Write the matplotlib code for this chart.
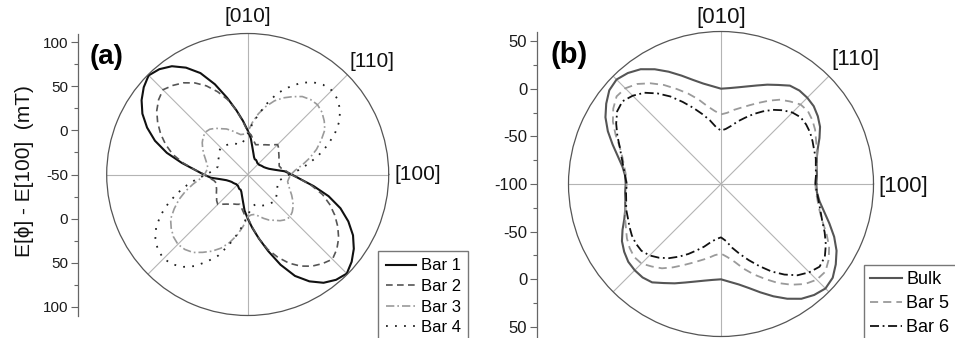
import numpy as np
import matplotlib
matplotlib.use('Agg')
import matplotlib.pyplot as plt

plt.rcParams['font.family'] = ['Liberation Sans', 'DejaVu Sans']

# ---------------- data ----------------
angles_deg = list(range(0, 360, 5))

# panel (a)
bar1 = [0, -8, -19, -25, -28, -30, -31, -32, -33, -33, -33, -32, -31, -31, -29, -25, -19, -9,
        0, 11, 24, 40, 59, 77, 90, 100, 106, 109, 104, 97, 88, 76, 62, 45, 26, 10,
        0, -8, -19, -25, -28, -30, -31, -32, -33, -33, -33, -32, -31, -31, -29, -25, -19, -9,
        0, 11, 24, 40, 59, 77, 90, 100, 106, 109, 104, 97, 88, 76, 62, 45, 26, 10]
bar2 = [-1, -6, -11, -13, -12, -11, -9, -7, -4, -2, -6, -9, -11, -13, -14, -15, -11, -5,
        -1, 10, 24, 38, 50, 61, 70, 77, 82, 86, 82, 76, 68, 59, 49, 38, 24, 10,
        -1, -6, -11, -13, -12, -11, -9, -7, -4, -2, -6, -9, -11, -13, -14, -15, -11, -5,
        -1, 10, 24, 38, 50, 61, 70, 77, 82, 86, 82, 76, 68, 59, 49, 38, 24, 10]
bar3 = [-1, 4, 13, 23, 33, 42, 51, 56, 60, 62, 61, 58, 52, 46, 39, 30, 20, 9,
        -2, -4, -4, -1, 3, 7, 10, 14, 17, 18, 16, 13, 9, 5, 1, -2, -4, -3,
        -1, 4, 13, 23, 33, 42, 51, 56, 60, 62, 61, 58, 52, 46, 39, 30, 20, 9,
        -2, -4, -4, -1, 3, 7, 10, 14, 17, 18, 16, 13, 9, 5, 1, -2, -4, -3]
bar4 = [-3, 8, 20, 33, 46, 59, 70, 78, 83, 85, 83, 78, 70, 59, 48, 33, 19, 7,
        -4, -10, -14, -15, -13, -11, -10, -9, -8, -7, -8, -10, -12, -13, -14, -15, -13, -9,
        -3, 8, 20, 33, 46, 59, 70, 78, 83, 85, 83, 78, 70, 59, 48, 33, 19, 7,
        -4, -10, -14, -15, -13, -11, -10, -9, -8, -7, -8, -10, -12, -13, -14, -15, -13, -9]

# panel (b)
bulk = [0, 1, 2, 4, 8, 14, 20, 24, 27, 28, 28, 26, 20, 15, 10, 6, 3, 1,
        0, 3, 7, 13, 21, 30, 39, 47, 52, 55, 53, 47, 40, 31, 21, 12, 5, 1,
        0, 1, 2, 4, 8, 14, 20, 24, 27, 28, 28, 26, 20, 15, 10, 6, 3, 1,
        0, 3, 7, 13, 21, 30, 39, 47, 52, 55, 53, 47, 40, 31, 21, 12, 5, 1]
bar5 = [-1, 0, 2, 4, 7, 10, 14, 17, 19, 18, 13, 8, 1, -6, -12, -17, -21, -25,
        -27, -23, -17, -8, 1, 10, 20, 29, 37, 42, 43, 38, 31, 22, 13, 7, 3, 0,
        -1, 0, 2, 4, 7, 10, 14, 17, 19, 18, 13, 8, 1, -6, -12, -17, -21, -25,
        -27, -23, -17, -8, 1, 10, 20, 29, 37, 42, 43, 38, 31, 22, 13, 7, 3, 0]
bar6 = [-1, 0, 1, 3, 4, 6, 8, 9, 9, 6, 1, -5, -12, -19, -26, -32, -38, -42,
        -44, -40, -32, -24, -15, -5, 6, 16, 25, 31, 35, 33, 27, 20, 13, 8, 4, 1,
        -1, 0, 1, 3, 4, 6, 8, 9, 9, 6, 1, -5, -12, -19, -26, -32, -38, -42,
        -44, -40, -32, -24, -15, -5, 6, 16, 25, 31, 35, 33, 27, 20, 13, 8, 4, 1]

labels_a = ['Bar 1', 'Bar 2', 'Bar 3', 'Bar 4']
labels_b = ['Bulk', 'Bar 5', 'Bar 6']
dir_labels = ['[100]', '[110]', '[010]']
rlim_a = (-50, 110)
rlim_b = (-100, 60)
rticks_a = [100, 50, 0, -50, 0, 50, 100]
rticks_b = [50, 0, -50, -100, -50, 0, 50]
ylabel = 'E[\u03d5] - E[100]  (mT)'

# ---------------- figure ----------------
W, H = 955, 338
fig = plt.figure(figsize=(W / 100, H / 100), dpi=100)


def rect(cx, cy, r):
    return [(cx - r) / W, 1 - (cy + r) / H, 2 * r / W, 2 * r / H]


def make_polar(cx, cy, R, rlim):
    ax = fig.add_axes(rect(cx, cy, R), projection='polar')
    ax.set_ylim(*rlim)
    ax.set_yticks([])
    ax.set_xticks(np.deg2rad(np.arange(0, 360, 45)))
    ax.set_xticklabels([])
    ax.set_xticks(np.deg2rad(np.arange(22.5, 360, 45)), minor=True)
    ax.xaxis.grid(True, which='major', color='#b4b4b4', lw=0.8)
    ax.xaxis.grid(False, which='minor')
    ax.tick_params(axis='x', which='major', direction='in', length=5, width=0.8, color='#555555')
    ax.tick_params(axis='x', which='minor', direction='in', length=3, width=0.8, color='#555555')
    ax.spines['polar'].set_color('#555555')
    ax.spines['polar'].set_linewidth(0.9)
    ax.set_facecolor('none')
    return ax


def make_raxis(x_px, cy, R, rlim, tickvals, fs):
    span = rlim[1] - rlim[0]
    ax = fig.add_axes([x_px / W, 1 - (cy + R) / H, 0.0001, 2 * R / H])
    ax.set_ylim(-span, span)
    for s in ['top', 'right', 'bottom']:
        ax.spines[s].set_visible(False)
    ax.spines['left'].set_color('#666666')
    ax.spines['left'].set_linewidth(0.9)
    ax.set_xticks([])
    n = len(tickvals)
    pos = [(1 if i < n // 2 else -1) * (v - rlim[0]) for i, v in enumerate(tickvals)]
    ax.set_yticks(pos)
    ax.set_yticklabels([str(v) for v in tickvals], fontsize=fs, color='#1a1a1a')
    ax.set_yticks(np.arange(-150, 151, 25), minor=True)
    ax.tick_params(axis='y', which='major', direction='out', length=5, width=0.8, color='#666666', pad=2)
    ax.tick_params(axis='y', which='minor', direction='out', length=3, width=0.8, color='#666666')
    ax.patch.set_visible(False)
    return ax


def closed(vals):
    th = np.deg2rad(angles_deg + [360])
    return th, list(vals) + [vals[0]]


# panel (a)
axa = make_polar(247.7, 174.5, 141, rlim_a)
make_raxis(77.7, 174.5, 141, rlim_a, rticks_a, 11)
styles_a = [dict(color='#111111', lw=1.5, ls='-'),
            dict(color='#555555', lw=1.2, ls=(0, (4.0, 2.6))),
            dict(color='#9a9a9a', lw=1.2, ls=(0, (5.0, 1.8, 1.0, 1.8))),
            dict(color='#222222', lw=1.3, ls=(0, (1.0, 4.0)))]
lines_a = []
for vals, lab, st in zip([bar1, bar2, bar3, bar4], labels_a, styles_a):
    th, r = closed(vals)
    ln, = axa.plot(th, r, label=lab, **st)
    lines_a.append(ln)

# panel (b)
axb = make_polar(721, 184, 152.5, rlim_b)
make_raxis(537, 184, 152.5, rlim_b, rticks_b, 12)
styles_b = [dict(color='#555555', lw=1.5, ls='-'),
            dict(color='#9a9a9a', lw=1.3, ls=(0, (4.5, 2.8))),
            dict(color='#111111', lw=1.3, ls=(0, (5.0, 2.0, 1.0, 2.0)))]
lines_b = []
for vals, lab, st in zip([bulk, bar5, bar6], labels_b, styles_b):
    th, r = closed(vals)
    ln, = axb.plot(th, r, label=lab, **st)
    lines_b.append(ln)

# direction labels
def dirlabels(ax, rmax, fs, offs):
    for lab, ang, (dx, dy, ha, va) in zip(dir_labels, [0, 45, 90], offs):
        ax.annotate(lab, xy=(np.deg2rad(ang), rmax), xytext=(dx, dy), textcoords='offset pixels',
                    ha=ha, va=va, fontsize=fs, color='#111111', annotation_clip=False)

dirlabels(axa, rlim_a[1], 15, [(6, 0, 'left', 'center'), (2, 4, 'left', 'bottom'), (0, 8, 'center', 'bottom')])
dirlabels(axb, rlim_b[1], 16, [(5, -2, 'left', 'center'), (3, 6, 'left', 'bottom'), (0, 4, 'center', 'bottom')])

# panel tags & y label
fig.text(90 / W, 1 - 57 / H, '(a)', fontsize=20, fontweight='bold', ha='left', va='center')
fig.text(550 / W, 1 - 55 / H, '(b)', fontsize=21, fontweight='bold', ha='left', va='center')
fig.text(24 / W, 1 - 171.5 / H, ylabel, rotation=90, ha='center', va='center', fontsize=15,
         color='#111111')

# legends
leg_a = fig.legend(handles=lines_a, loc='upper left', bbox_to_anchor=(378 / W, 1 - 251 / H),
                   fontsize=12, frameon=True, fancybox=False, edgecolor='#555555', borderaxespad=0,
                   handlelength=1.8, handletextpad=0.3, labelspacing=0.33, borderpad=0.45)
leg_a.get_frame().set_linewidth(1.0)
leg_b = fig.legend(handles=lines_b, loc='upper left', bbox_to_anchor=(864 / W, 1 - 265 / H),
                   fontsize=13, frameon=True, fancybox=False, edgecolor='#555555', borderaxespad=0,
                   handlelength=1.75, handletextpad=0.25, labelspacing=0.38, borderpad=0.35)
leg_b.get_frame().set_linewidth(1.0)

fig.savefig('out.png', dpi=100)
